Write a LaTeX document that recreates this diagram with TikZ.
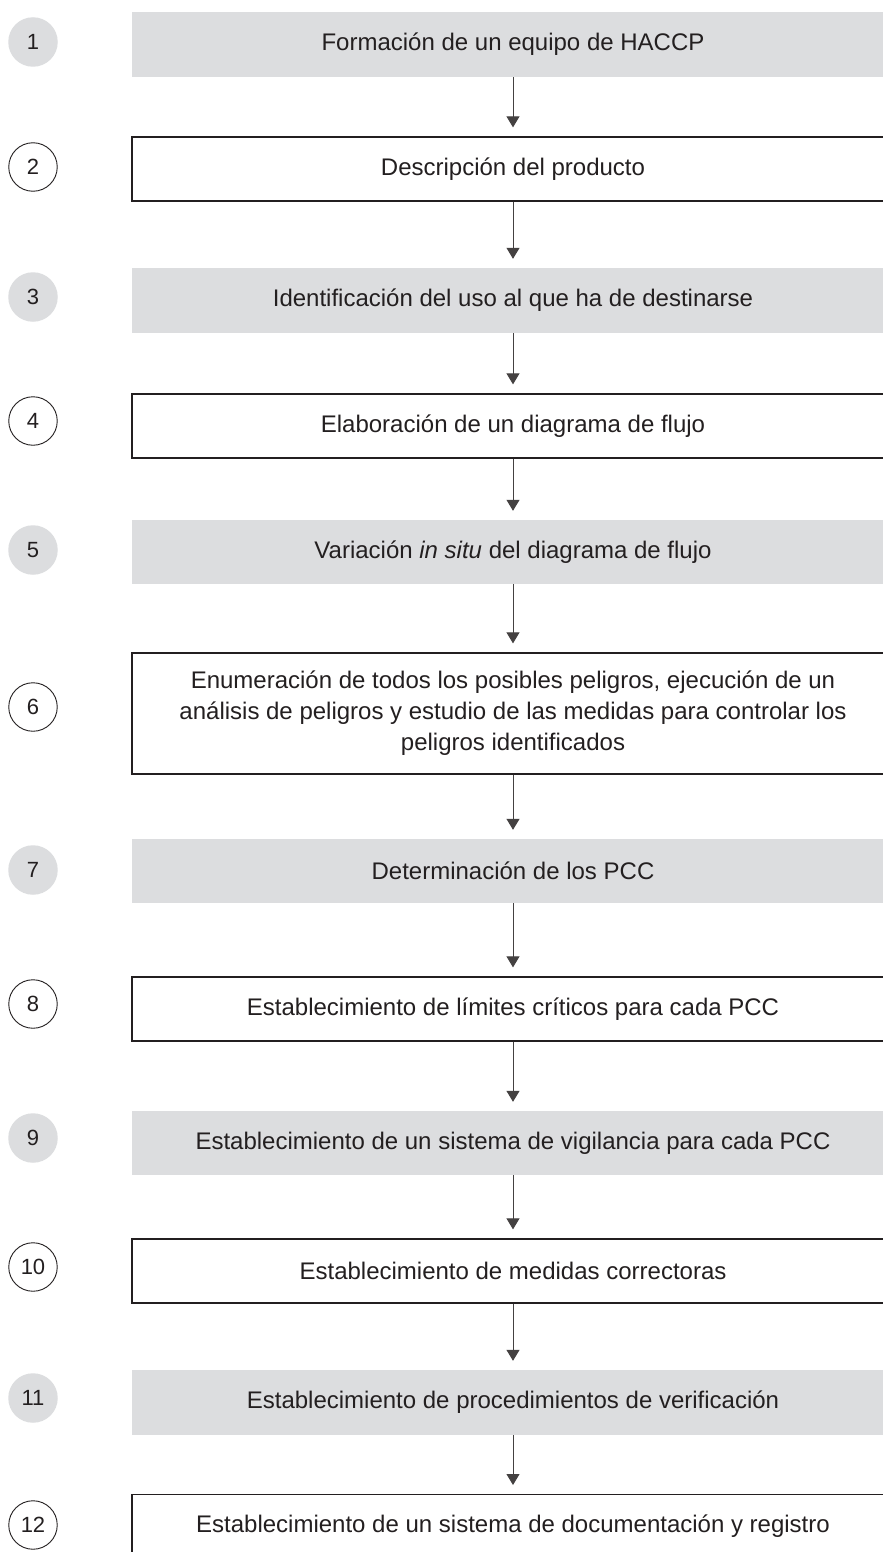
\documentclass[tikz,border=0pt]{standalone}
\usepackage{fontspec}
\setmainfont{Liberation Sans}
\usetikzlibrary{arrows.meta}
\definecolor{boxgrey}{HTML}{DCDDDF}
\definecolor{ink}{HTML}{231F20}
\tikzset{
  greybox/.style={rectangle, fill=boxgrey, draw=none, minimum width=762pt, inner sep=0pt, text=ink, font=\fontsize{24}{31}\selectfont, align=center},
  whitebox/.style={rectangle, fill=white, draw=ink, line width=1.3pt, minimum width=762pt, inner sep=0pt, text=ink, font=\fontsize{24}{31}\selectfont, align=center},
  greynum/.style={circle, fill=boxgrey, draw=none, minimum size=49.5pt, inner sep=0pt, text=ink, font=\fontsize{22}{22}\selectfont},
  whitenum/.style={circle, fill=white, draw=ink, line width=0.9pt, minimum size=48.5pt, inner sep=0pt, text=ink, font=\fontsize{22}{22}\selectfont},
  flowarrow/.style={draw=ink!85, line width=1pt, -{Triangle[length=11pt,width=13pt]}}
}
\begin{document}
\begin{tikzpicture}[x=1pt,y=-1pt]
\useasboundingbox (0,0) rectangle (883,1552);
\clip (0,0) rectangle (883,1552);
\fill[white] (0,0) rectangle (883,1552);
% boxes
\node[greybox, minimum height=65pt] (b1) at (513,44.5) {Formación de un equipo de HACCP};
\node[whitebox, minimum height=64pt] (b2) at (513,169) {Descripción del producto};
\node[greybox, minimum height=65pt] (b3) at (513,300.5) {Identificación del uso al que ha de destinarse};
\node[whitebox, minimum height=64pt] (b4) at (513,426) {Elaboración de un diagrama de flujo};
\node[greybox, minimum height=64pt] (b5) at (513,552) {Variación \textit{in situ} del diagrama de flujo};
\node[whitebox, minimum height=121pt] (b6) at (513,713.5) {Enumeración de todos los posibles peligros, ejecución de un\\análisis de peligros y estudio de las medidas para controlar los\\peligros identificados};
\node[greybox, minimum height=64pt] (b7) at (513,871) {Determinación de los PCC};
\node[whitebox, minimum height=64pt] (b8) at (513,1009) {Establecimiento de límites críticos para cada PCC};
\node[greybox, minimum height=64pt] (b9) at (513,1143) {Establecimiento de un sistema de vigilancia para cada PCC};
\node[whitebox, minimum height=64pt] (b10) at (513,1271) {Establecimiento de medidas correctoras};
\node[greybox, minimum height=65pt] (b11) at (513,1402.5) {Establecimiento de procedimientos de verificación};
\node[whitebox, minimum height=64pt, anchor=north] (b12) at (513,1494) {};
\node[text=ink, font=\fontsize{24}{31}\selectfont] (t12) at (513,1526) {Establecimiento de un sistema de documentación y registro};
% numbers
\node[greynum] (n1) at (33,42) {1};
\node[whitenum] (n2) at (33,167) {2};
\node[greynum] (n3) at (33,297) {3};
\node[whitenum] (n4) at (33,421) {4};
\node[greynum] (n5) at (33,550) {5};
\node[whitenum] (n6) at (33,707) {6};
\node[greynum] (n7) at (33,870) {7};
\node[whitenum] (n8) at (33,1004) {8};
\node[greynum] (n9) at (33,1138) {9};
\node[whitenum] (n10) at (33,1267) {10};
\node[greynum] (n11) at (33,1398) {11};
\node[whitenum] (n12) at (33,1525) {12};
% arrows
\foreach \a/\b in {1/2,2/3,3/4,4/5,5/6,6/7,7/8,8/9,9/10,10/11,11/12}{
  \coordinate (e\b) at ([yshift=9pt]b\b.north);
  \draw[flowarrow] (b\a.south) -- (e\b);
}
\end{tikzpicture}
\end{document}
